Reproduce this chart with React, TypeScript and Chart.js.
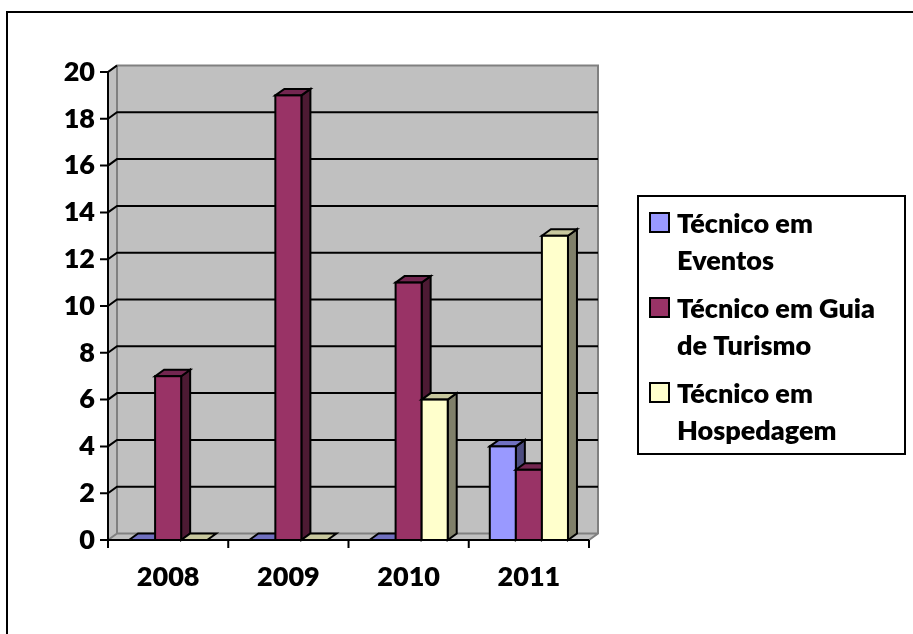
import React, { useEffect, useRef } from "react";
import { Chart, registerables } from "chart.js";

Chart.register(...registerables);

const categories = ["2008", "2009", "2010", "2011"];
const seriesNames = ["Técnico em Eventos", "Técnico em Guia de Turismo", "Técnico em Hospedagem"];
const legendLines = [["Técnico em", "Eventos"], ["Técnico em Guia", "de Turismo"], ["Técnico em", "Hospedagem"]];
const eventos = [0, 0, 0, 4];
const guia = [7, 19, 11, 3];
const hospedagem = [0, 0, 6, 13];
const yTicks = [0, 2, 4, 6, 8, 10, 12, 14, 16, 18, 20];

const frontColors = ["#9999FF", "#993366", "#FFFFCC"];
const topColors = ["#7070C0", "#732650", "#C8C89E"];
const sideColors = ["#4D4D80", "#4D1A33", "#80806A"];

const FONT = "Lato, 'Open Sans', sans-serif";
const WEIGHT = 800;
const DX = 9;
const DY = 6.5;

const threeD = {
  id: "threeD",
  beforeDraw(chart: any) {
    const { ctx, chartArea: a } = chart;
    const y = chart.scales.y;
    ctx.save();
    ctx.fillStyle = "#fff";
    ctx.fillRect(0, 0, chart.width, chart.height);
    ctx.strokeStyle = "#000";
    ctx.lineWidth = 2;
    ctx.beginPath();
    ctx.moveTo(7, chart.height + 2);
    ctx.lineTo(7, 12);
    ctx.lineTo(chart.width + 2, 12);
    ctx.stroke();

    const L = a.left, R = a.right, T = a.top, B = a.bottom;
    ctx.fillStyle = "#C0C0C0";
    ctx.strokeStyle = "#808080";
    ctx.lineWidth = 2;
    ctx.fillRect(L + DX, T - DY, R - L, B - T);
    ctx.beginPath();
    ctx.moveTo(L, T); ctx.lineTo(L + DX, T - DY); ctx.lineTo(L + DX, B - DY); ctx.lineTo(L, B); ctx.closePath();
    ctx.fill();
    ctx.beginPath();
    ctx.moveTo(L, B); ctx.lineTo(L + DX, B - DY); ctx.lineTo(R + DX, B - DY); ctx.lineTo(R, B); ctx.closePath();
    ctx.fill();
    ctx.beginPath();
    ctx.moveTo(L, T); ctx.lineTo(L + DX, T - DY); ctx.lineTo(R + DX, T - DY); ctx.lineTo(R + DX, B - DY); ctx.lineTo(R, B);
    ctx.moveTo(L + DX, T - DY); ctx.lineTo(L + DX, B - DY); ctx.lineTo(R + DX, B - DY);
    ctx.moveTo(L, B); ctx.lineTo(L + DX, B - DY);
    ctx.stroke();
    ctx.strokeStyle = "#000";
    ctx.lineWidth = 2;
    ctx.beginPath();
    for (const v of yTicks) {
      if (v === 0 || v === 20) continue;
      const py = y.getPixelForValue(v);
      ctx.moveTo(L, py);
      ctx.lineTo(L + DX, py - DY);
      ctx.lineTo(R + DX, py - DY);
    }
    ctx.stroke();
    ctx.restore();
  },
  afterDatasetsDraw(chart: any) {
    const { ctx, chartArea: a } = chart;
    const x = chart.scales.x;
    const y = chart.scales.y;
    ctx.save();
    ctx.lineWidth = 2;
    ctx.strokeStyle = "#000";
    ctx.lineJoin = "miter";
    const n = chart.data.labels.length;
    for (let i = 0; i < n; i++) {
      chart.data.datasets.forEach((ds: any, d: number) => {
        const el = chart.getDatasetMeta(d).data[i];
        const { x: cx, y: top, base, width } = el.getProps(["x", "y", "base", "width"], true);
        const x0 = cx - width / 2, x1 = cx + width / 2;
        if (base - top > 0.5) {
          ctx.fillStyle = sideColors[d];
          ctx.beginPath();
          ctx.moveTo(x1, top); ctx.lineTo(x1 + DX, top - DY); ctx.lineTo(x1 + DX, base - DY); ctx.lineTo(x1, base); ctx.closePath();
          ctx.fill(); ctx.stroke();
        }
        ctx.fillStyle = topColors[d];
        ctx.beginPath();
        ctx.moveTo(x0, top); ctx.lineTo(x0 + DX, top - DY); ctx.lineTo(x1 + DX, top - DY); ctx.lineTo(x1, top); ctx.closePath();
        ctx.fill(); ctx.stroke();
        if (base - top > 0.5) {
          ctx.fillStyle = frontColors[d];
          ctx.fillRect(x0, top, width, base - top);
          ctx.strokeRect(x0, top, width, base - top);
        }
      });
    }
    const L = a.left, R = a.right, T = a.top, B = a.bottom;
    ctx.beginPath();
    ctx.moveTo(L, T); ctx.lineTo(L, B); ctx.lineTo(R, B);
    for (const v of yTicks) {
      const py = y.getPixelForValue(v);
      ctx.moveTo(L - 8, py); ctx.lineTo(L, py);
    }
    for (let i = 0; i <= n; i++) {
      const px = i < n ? x.getPixelForTick(i) - (x.getPixelForTick(1) - x.getPixelForTick(0)) / 2 : R;
      ctx.moveTo(px, B); ctx.lineTo(px, B + 8);
    }
    ctx.moveTo(L, T); ctx.lineTo(L + DX, T - DY);
    ctx.stroke();
    ctx.restore();
  },
  afterDraw(chart: any) {
    const { ctx } = chart;
    ctx.save();
    const bx = 638, by = 196, bw = 267, bh = 258;
    ctx.fillStyle = "#fff";
    ctx.fillRect(bx, by, bw, bh);
    ctx.strokeStyle = "#000";
    ctx.lineWidth = 2;
    ctx.strokeRect(bx, by, bw, bh);
    ctx.font = `${WEIGHT} 27px ${FONT}`;
    ctx.textBaseline = "alphabetic";
    ctx.textAlign = "left";
    chart.data.datasets.forEach((ds: any, d: number) => {
      const base = 233 + d * 85;
      ctx.fillStyle = frontColors[d];
      ctx.fillRect(650, base - 20, 19, 19);
      ctx.strokeRect(650, base - 20, 19, 19);
      ctx.fillStyle = "#000";
      legendLines[d].forEach((t, k) => ctx.fillText(t, 677, base + k * 37));
    });
    ctx.restore();
  },
};

export default function App() {
  const ref = useRef<HTMLCanvasElement>(null);
  useEffect(() => {
    const chart = new Chart(ref.current!, {
      type: "bar",
      data: {
        labels: categories,
        datasets: [
          { label: seriesNames[0], data: eventos, backgroundColor: frontColors[0], borderColor: "#000", borderWidth: 0 },
          { label: seriesNames[1], data: guia, backgroundColor: frontColors[1], borderColor: "#000", borderWidth: 0 },
          { label: seriesNames[2], data: hospedagem, backgroundColor: frontColors[2], borderColor: "#000", borderWidth: 0 },
        ],
      },
      options: {
        animation: false,
        responsive: false,
        events: [],
        layout: { padding: { left: 0, top: 72, right: 324, bottom: 0 } },
        datasets: { bar: { categoryPercentage: 0.65, barPercentage: 1 } },
        plugins: { legend: { display: false }, tooltip: { enabled: false } },
        scales: {
          x: {
            grid: { display: false, drawTicks: false, tickLength: 0 },
            border: { display: false },
            ticks: { color: "#000", font: { family: FONT, size: 27, weight: WEIGHT }, padding: 21, maxRotation: 0 },
            afterFit: (s: any) => { s.height = 94; },
          },
          y: {
            min: 0,
            max: 20,
            grid: { display: false, drawTicks: false, tickLength: 0 },
            border: { display: false },
            ticks: { stepSize: 2, color: "#000", font: { family: FONT, size: 27, weight: WEIGHT }, padding: 13 },
            afterFit: (s: any) => { s.width = 108; },
          },
        },
      },
      plugins: [threeD],
    } as any);
    return () => chart.destroy();
  }, []);
  return (
    <div style={{ position: "absolute", left: 0, top: 0, width: 913, height: 634 }}>
      <canvas ref={ref} width={913} height={634} style={{ display: "block" }} />
    </div>
  );
}
